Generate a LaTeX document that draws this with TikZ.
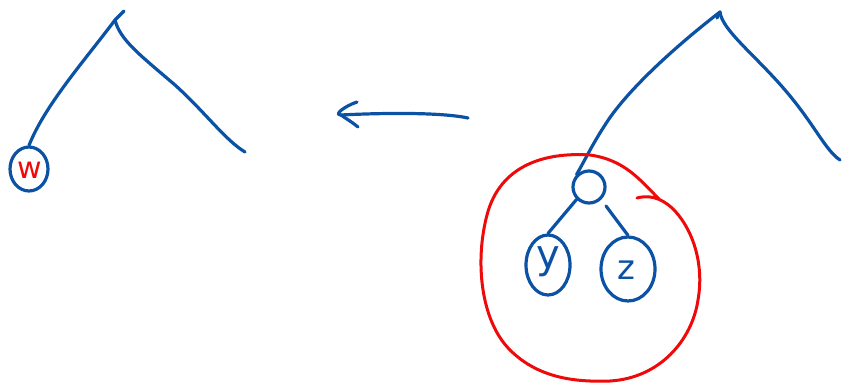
\documentclass[tikz,border=0pt]{standalone}
\usepackage{fontspec}
\setmainfont{DejaVu Sans}
\usetikzlibrary{shapes.geometric}
\definecolor{pen}{RGB}{12,82,164}
\definecolor{redpen}{RGB}{238,10,10}
\tikzset{
  stroke/.style={draw=pen, line width=3.2pt, line cap=round, line join=round},
  redstroke/.style={draw=redpen, line width=3pt, line cap=round, line join=round},
  leaf/.style={ellipse, stroke, inner sep=0pt},
  label/.style={inner sep=0pt, font=\bfseries},
}
\begin{document}
\begin{tikzpicture}[x=1pt,y=-1pt]
\useasboundingbox (0,0) rectangle (842,387);
% ---------- left tree ----------
\coordinate (lapex) at (115,20);
\coordinate (ltick) at (124,11);
\coordinate (lrend) at (245,152);
\node[leaf, minimum width=38pt, minimum height=44pt] (w) at (29,169) {};
\node[label, text=redpen, font=\fontsize{30}{30}\selectfont] (wl) at (30,170) {w};
\draw[stroke] (lapex) -- (ltick);
\draw[stroke] (lapex) .. controls (85,60) and (45,105) .. (w.north);
\draw[stroke] (lapex) .. controls (120,40) and (140,55) .. (175,85) .. controls (205,112) and (225,140) .. (lrend);
% ---------- arrow ----------
\coordinate (astart) at (468,118);
\coordinate (atip) at (341,115);
\coordinate (ah1) at (357,102);
\coordinate (ah2) at (358,127);
\draw[stroke] (astart) .. controls (440,112) and (380,113) .. (atip);
\draw[stroke] (ah1) .. controls (345,106) and (333,115) .. (atip) .. controls (345,118) and (352,122) .. (ah2);
% ---------- right tree ----------
\coordinate (rapex) at (720,12);
\coordinate (rrend) at (840,160);
\node[circle, stroke, minimum size=32pt, inner sep=0pt] (root) at (589,187) {};
\node[leaf, minimum width=44pt, minimum height=60pt] (y) at (548,265) {};
\node[leaf, minimum width=54pt, minimum height=64pt] (z) at (628,269) {};
\node[label, text=pen, font=\fontsize{40}{40}\selectfont] (yl) at (548,262) {y};
\node[label, text=pen, font=\fontsize{34}{34}\selectfont] (zl) at (626,270) {z};
\draw[stroke] (rapex) -- (717,18);
\draw[stroke] (rapex) .. controls (690,35) and (630,85) .. (605,125) .. controls (592,145) and (585,160) .. (root.north west);
\draw[stroke] (rapex) .. controls (722,30) and (755,55) .. (785,90) .. controls (815,125) and (825,150) .. (rrend);
\draw[stroke] (root.south west) -- (y.north);
\coordinate (zs) at (606,206);
\draw[stroke] (zs) -- (z.north);
% ---------- red circle ----------
\coordinate (rs) at (660,200);
\coordinate (re) at (637,198);
\draw[redstroke] (rs) .. controls (640,180) and (625,160) .. (590,155)
  .. controls (545,152) and (500,165) .. (487,215)
  .. controls (475,260) and (480,320) .. (510,350)
  .. controls (540,380) and (580,382) .. (610,381)
  .. controls (660,378) and (692,340) .. (698,300)
  .. controls (705,260) and (690,225) .. (672,208)
  .. controls (660,197) and (648,195) .. (re);
\end{tikzpicture}
\end{document}
